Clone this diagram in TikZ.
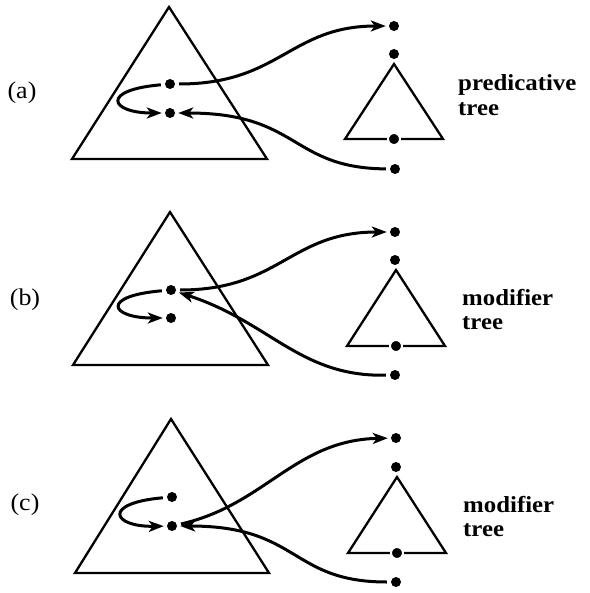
\documentclass[tikz,border=0pt]{standalone}
\usepackage{fontspec}
\setmainfont{Liberation Serif}[FakeStretch=1.08]
\usetikzlibrary{arrows.meta}
\begin{document}
\begin{tikzpicture}[x=1pt,y=-1pt,
  dot/.style={circle,fill=black,inner sep=0pt,minimum size=10pt},
  rootdot/.style={circle,fill=black,draw=white,line width=2pt,inner sep=0pt,minimum size=12pt},
  tri/.style={line width=2.3pt,line join=miter},
  link/.style={line width=3pt,-{Stealth[length=15pt,width=11pt,inset=4pt]},shorten <=4pt,shorten >=3pt},
  lbl/.style={font=\fontsize{24}{25}\selectfont,anchor=base,inner sep=0pt},
  tlbl/.style={font=\bfseries\fontsize{23}{25}\selectfont,anchor=base west,inner sep=0pt}]
\useasboundingbox (0,0) rectangle (589,593);

% ---------- (a) ----------
\draw[tri] (169,7) -- (267,159) -- (72,159) -- cycle;
\node[dot] (aU) at (170,84) {};
\node[dot] (aL) at (170,113) {};
\draw[tri] (394,64) -- (443,139) -- (345,139) -- cycle;
\node[dot] (aT) at (394,26) {};
\node[dot] (aS) at (394,54) {};
\node[rootdot] (aR) at (394,139) {};
\node[dot] (aB) at (395,169) {};
\draw[link] (aU) .. controls (280,84) and (290,26) .. (aT);
\draw[link] (aB) .. controls (290,168) and (300,113) .. (aL);
\draw[link] (aU) .. controls (100,90) and (110,113) .. (aL);
\node[lbl] (la) at (22,99) {(a)};
\node[tlbl] (ta1) at (458,91) {predicative};
\node[tlbl] (ta2) at (458,116) {tree};

% ---------- (b) ----------
\draw[tri] (170,212) -- (268,365) -- (73,365) -- cycle;
\node[dot] (bU) at (171,290) {};
\node[dot] (bL) at (171,318) {};
\draw[tri] (396,270) -- (445,346) -- (347,346) -- cycle;
\node[dot] (bT) at (395,232) {};
\node[dot] (bS) at (395,260) {};
\node[rootdot] (bR) at (396,346) {};
\node[dot] (bB) at (395,375) {};
\draw[link] (bU) .. controls (280,290) and (290,232) .. (bT);
\draw[link] (bB) .. controls (300,377) and (270,322) .. (bU);
\draw[link] (bU) .. controls (100,296) and (110,318) .. (bL);
\node[lbl] (lb) at (25,305) {(b)};
\node[tlbl] (tb1) at (462,305) {modifier};
\node[tlbl] (tb2) at (462,329) {tree};

% ---------- (c) ----------
\draw[tri] (171,419) -- (269,573) -- (75,573) -- cycle;
\node[dot] (cU) at (172,497) {};
\node[dot] (cL) at (172,526) {};
\draw[tri] (397,477) -- (446,553) -- (348,553) -- cycle;
\node[dot] (cT) at (396,438) {};
\node[dot] (cS) at (396,467) {};
\node[rootdot] (cR) at (397,553) {};
\node[dot] (cB) at (396,582) {};
\draw[link] (cL) .. controls (265,505) and (295,440) .. (cT);
\draw[link] (cB) .. controls (290,582) and (300,526) .. (cL);
\draw[link] (cU) .. controls (102,503) and (112,527) .. (cL);
\node[lbl] (lc) at (25,510) {(c)};
\node[tlbl] (tc1) at (463,512) {modifier};
\node[tlbl] (tc2) at (463,536) {tree};
\end{tikzpicture}
\end{document}
